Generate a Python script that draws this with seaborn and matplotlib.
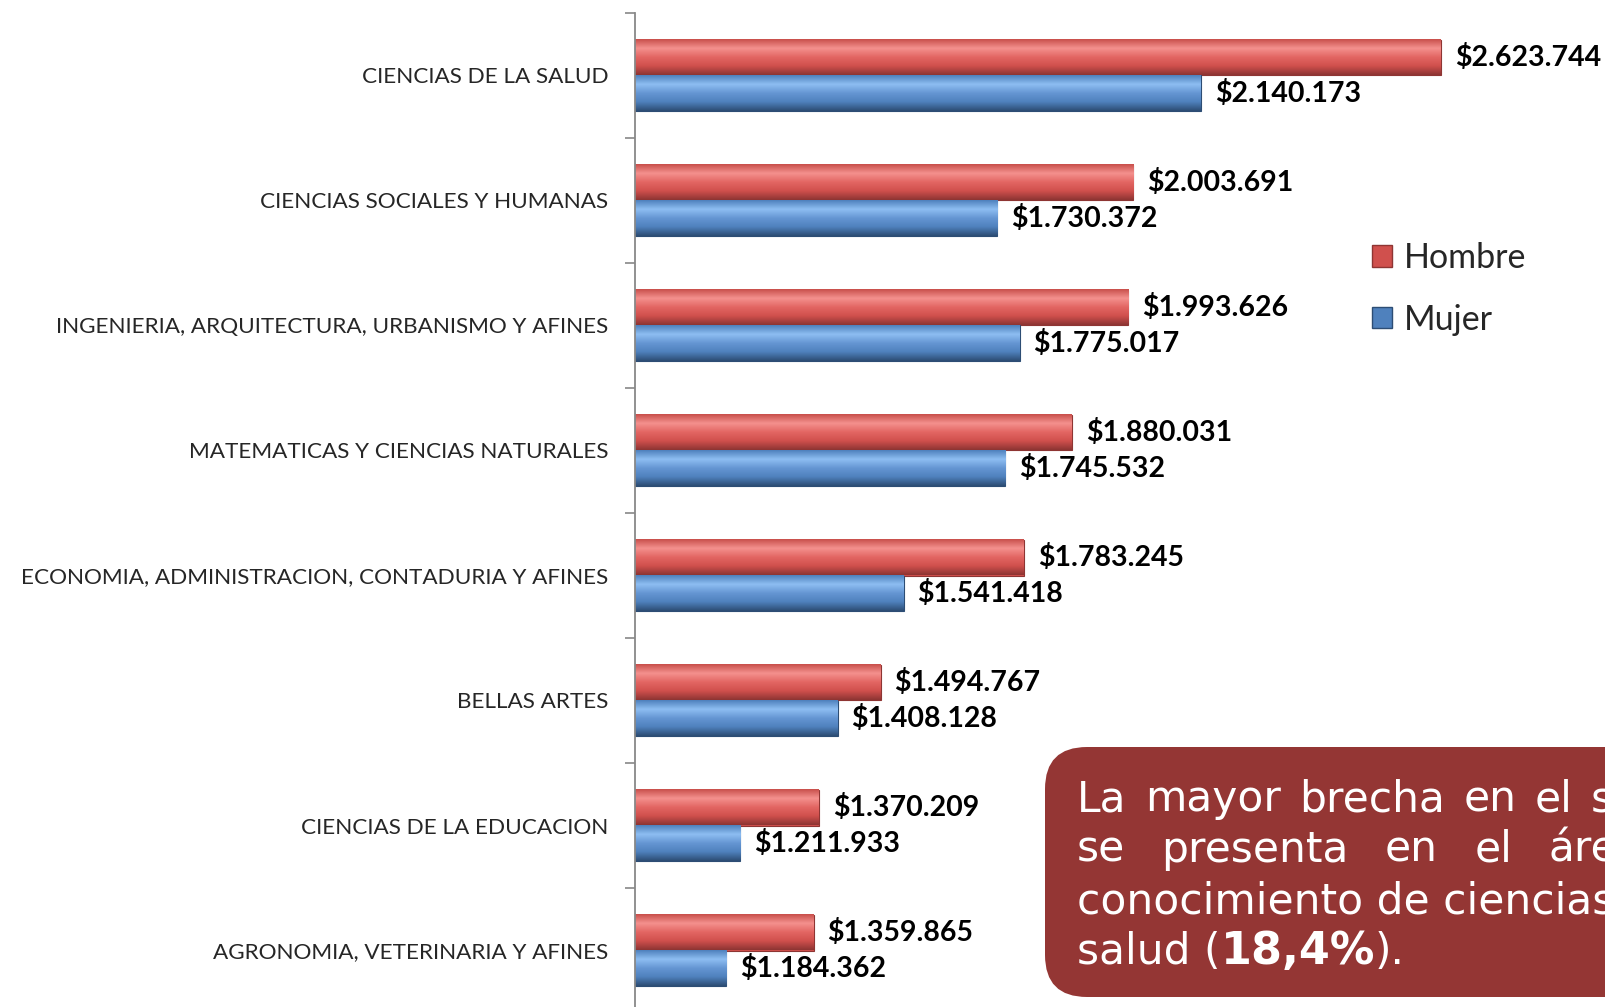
import numpy as np
import pandas as pd
import seaborn as sns
import matplotlib.pyplot as plt
import matplotlib.patches as mpatches
from matplotlib.colors import LinearSegmentedColormap

areas = ["CIENCIAS DE LA SALUD",
         "CIENCIAS SOCIALES Y HUMANAS",
         "INGENIERIA, ARQUITECTURA, URBANISMO Y AFINES",
         "MATEMATICAS Y CIENCIAS NATURALES",
         "ECONOMIA, ADMINISTRACION, CONTADURIA Y AFINES",
         "BELLAS ARTES",
         "CIENCIAS DE LA EDUCACION",
         "AGRONOMIA, VETERINARIA Y AFINES"]
hombre = [2623744, 2003691, 1993626, 1880031, 1783245, 1494767, 1370209, 1359865]
mujer = [2140173, 1730372, 1775017, 1745532, 1541418, 1408128, 1211933, 1184362]
series = ["Hombre", "Mujer"]

df = pd.DataFrame({
    "area": areas * 2,
    "sexo": ["Hombre"] * len(areas) + ["Mujer"] * len(areas),
    "salario": hombre + mujer,
})

colores = {"Hombre": "#D0504D", "Mujer": "#4F81BD"}
grad = {
    "Hombre": ["#C9504C", "#F4918E", "#E36663", "#D0504D", "#8E3533"],
    "Mujer": ["#4F81BD", "#8EBEF2", "#6596D3", "#4F81BD", "#2D4D74"],
}

sns.set_style("white")
plt.rcParams['font.family'] = ['Lato', 'DejaVu Sans']

fig = plt.figure(figsize=(16.05, 10.07), dpi=100)
ax = fig.add_axes([635 / 1605, -6 / 1007, 992.6 / 1605, 1000 / 1007])

sns.barplot(data=df, y="area", x="salario", hue="sexo", hue_order=series,
            palette=colores, saturation=1, width=0.57, orient="h",
            legend=False, ax=ax)

# shaded "3D" look on every bar
for cont, s in zip(ax.containers, series):
    cmap = LinearSegmentedColormap.from_list(s, grad[s])
    g = np.linspace(0, 1, 64).reshape(-1, 1)
    for p in cont.patches:
        p.set_edgecolor(grad[s][4])
        p.set_linewidth(0.8)
        b = p.get_bbox()
        im = ax.imshow(g, extent=(b.x0, b.x1, b.y1, b.y0), origin="upper",
                       aspect="auto", cmap=cmap, zorder=2.5)
        im.set_clip_path(p)
        im.set_clip_box(ax.bbox)
    labs = [f"${v:,.0f}".replace(",", ".") for v in cont.datavalues]
    ax.bar_label(cont, labels=labs, padding=10, fontsize=20.5,
                 fontweight="bold", color="black")

ax.set_xlim(1e6, 3e6)
ax.set_ylim(len(areas) - 0.5, -0.5)
ax.set_xlabel("")
ax.set_ylabel("")
ax.set_xticks([])
ax.set_yticks(np.arange(len(areas) + 1) - 0.5, minor=True)
ax.tick_params(axis="y", which="major", length=0, pad=19, labelsize=16.2)
ax.tick_params(axis="y", which="minor", length=7, color="#888888", width=1.2, left=True)
for sp in ["top", "right", "bottom"]:
    ax.spines[sp].set_visible(False)
ax.spines["left"].set_color("#888888")
ax.spines["left"].set_linewidth(1.3)

handles = [mpatches.Patch(facecolor=colores[s], edgecolor=grad[s][4]) for s in series]
fig.legend(handles, series, loc="upper left", bbox_to_anchor=(1372 / 1605, 1 - 242 / 1007),
           frameon=False, fontsize=24.5, handlelength=0.58, handleheight=0.58,
           handletextpad=0.35, labelspacing=0.87, borderpad=0, borderaxespad=0)

# note box
ov = fig.add_axes([0, 0, 1, 1], facecolor="none")
ov.set_xlim(0, 1605)
ov.set_ylim(1007, 0)
ov.axis("off")
box = mpatches.FancyBboxPatch((1045, 747), 700, 250,
                              boxstyle="round,pad=0,rounding_size=42",
                              facecolor="#943634", edgecolor="none")
ov.add_patch(box)

txt = dict(color="white", fontsize=30.5, family="DejaVu Sans", va="baseline")
x0 = 1077
lineas = [("La mayor brecha en el salario", 811),
          ("se presenta en el área de", 862)]
t3 = ov.text(x0, 913, "conocimiento de ciencias de la", **txt)
t1 = ov.text(x0, 964, "salud (", **txt)
t2 = ov.annotate("18,4%", xy=(1, 0), xycoords=t1, va="bottom", color="white",
                 fontsize=32, family="DejaVu Sans", fontweight="bold")
ov.annotate(").", xy=(1, 0), xycoords=t2, va="bottom", color="white",
            fontsize=30.5, family="DejaVu Sans")

# justify the first two lines to the width of the third one
fig.canvas.draw()
r = fig.canvas.get_renderer()
ancho = t3.get_window_extent(r).width
for linea, y in lineas:
    palabras = [ov.text(x0, y, w, **txt) for w in linea.split()]
    anchos = [p.get_window_extent(r).width for p in palabras]
    hueco = (ancho - sum(anchos)) / (len(palabras) - 1)
    x = x0
    for p, w in zip(palabras, anchos):
        p.set_x(x)
        x += w + hueco

fig.savefig("out.png", dpi=100)
